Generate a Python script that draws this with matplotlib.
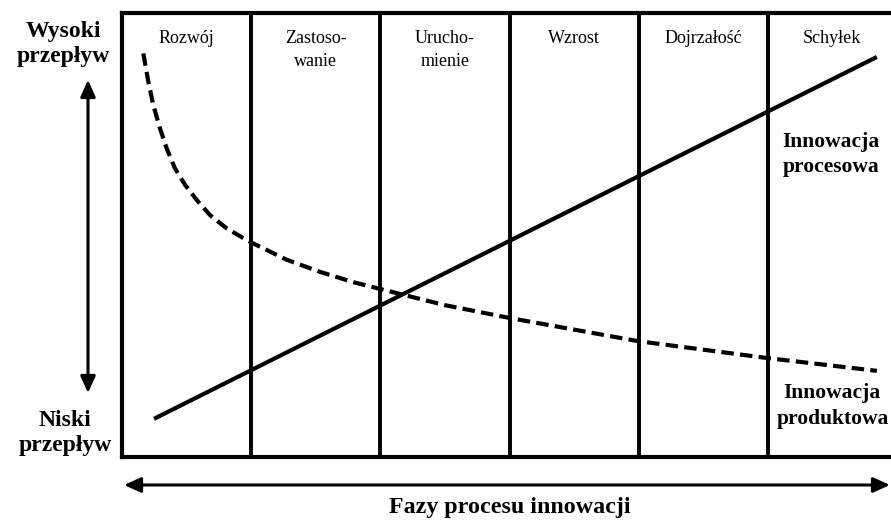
import matplotlib
matplotlib.use("Agg")
import matplotlib.pyplot as plt

# ── data ────────────────────────────────────────────────────────────────
phases = ["Rozwój", "Zastoso-\nwanie", "Urucho-\nmienie", "Wzrost", "Dojrzałość", "Schyłek"]

# product innovation (dashed), x in phase units, y = flow level 0..1
prod_x = [0.165, 0.204, 0.242, 0.294, 0.346, 0.410, 0.488, 0.578, 0.681,
          0.810, 0.939, 1.016, 1.277, 1.533, 1.788, 2.005, 2.500, 3.003,
          3.994, 4.992, 5.844]
prod_y = [0.909, 0.845, 0.793, 0.740, 0.695, 0.650, 0.613, 0.579, 0.545,
          0.515, 0.493, 0.481, 0.444, 0.417, 0.394, 0.378, 0.342, 0.313,
          0.261, 0.223, 0.194]

# process innovation (solid)
proc_x = [0.248, 5.844]
proc_y = [0.086, 0.901]

plt.rcParams["font.family"] = ["Liberation Serif", "DejaVu Serif"]

W, H = 891, 521
fig = plt.figure(figsize=(W / 100, H / 100), dpi=100)
ax = fig.add_axes([122 / W, (H - 457) / H, 775 / W, 444 / H])
ax.set_xlim(0, 6)
ax.set_ylim(0, 1)
ax.set_xticks([])
ax.set_yticks([])
for sp in ax.spines.values():
    sp.set_linewidth(3)

for i in range(1, len(phases)):
    ax.axvline(i, color="black", lw=2.8)

for i, name in enumerate(phases):
    ax.text(i + 0.5, 0.962, name, ha="center", va="top", fontsize=13,
            linespacing=1.45)

ax.plot(proc_x, proc_y, color="black", lw=3, solid_capstyle="butt")
ax.plot(prod_x, prod_y, color="black", lw=3, dashes=(3, 1.5),
        dash_capstyle="butt")

ax.text(5.49, 0.682, "Innowacja\nprocesowa", ha="center", va="center",
        fontsize=15.5, fontweight="bold", linespacing=1.35)
ax.text(5.5, 0.115, "Innowacja\nproduktowa", ha="center", va="center",
        fontsize=15.5, fontweight="bold", linespacing=1.35)

# side labels and arrows (figure pixels)
fig.text(63 / W, 1 - 44 / H, "Wysoki\nprzepływ", ha="center", va="center",
         fontsize=17, fontweight="bold", linespacing=1.3)
fig.text(65 / W, 1 - 433 / H, "Niski\nprzepływ", ha="center", va="center",
         fontsize=17, fontweight="bold", linespacing=1.3)
fig.text(510 / W, 1 - 508 / H, "Fazy procesu innowacji", ha="center",
         va="center", fontsize=17.3, fontweight="bold")

arrow = dict(arrowstyle="<|-|>,head_length=1.0,head_width=0.45",
             color="black", lw=2.2, mutation_scale=10,
             shrinkA=0, shrinkB=0)
ax.annotate("", xy=(88, H - 80), xytext=(88, H - 393),
            xycoords="figure pixels", textcoords="figure pixels",
            arrowprops=arrow)
ax.annotate("", xy=(124, H - 485), xytext=(890, H - 485),
            xycoords="figure pixels", textcoords="figure pixels",
            arrowprops=arrow)

fig.savefig("out.png", dpi=100)
